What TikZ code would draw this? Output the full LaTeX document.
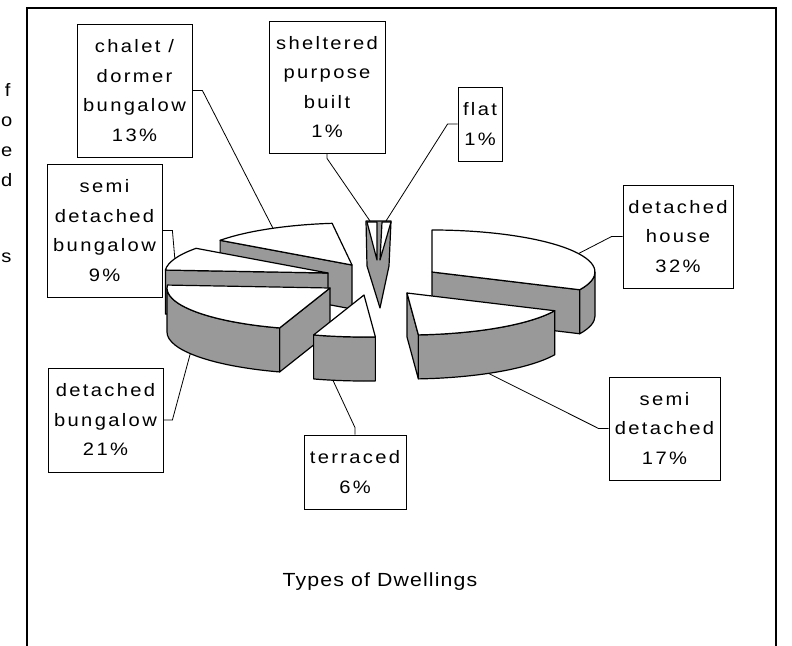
\documentclass[tikz,border=0pt]{standalone}
\usepackage{fontspec}
\usetikzlibrary{calc}
\setmainfont{Liberation Sans}
\newfontfamily\lblfont{Liberation Sans}[FakeStretch=1.12,LetterSpace=13]
\newfontfamily\ttlfont{Liberation Sans}[FakeStretch=1.12,LetterSpace=6]
\newfontfamily\edgefont{Liberation Sans}[FakeStretch=1.12]
\definecolor{pieshade}{gray}{0.6}
\tikzset{
  sideface/.style={draw,fill=pieshade,line join=round},
  topface/.style={draw,fill=white,line join=round},
  lblbox/.style={draw,fill=white,align=center,inner sep=0pt,line width=0.8bp,
    font=\lblfont\fontsize{18bp}{29.5bp}\selectfont},
  leader/.style={draw,line width=0.8bp}
}
\begin{document}
\begin{tikzpicture}[x=1bp,y=-1bp,line width=1.2bp]
    \useasboundingbox (0,0) rectangle (792,646);
    % frame
    \draw[line width=1.3bp] (27,646) -- (27,8) -- (776,8) -- (776,646);
    % text cut off at the left edge
    \begin{scope}[every node/.style={anchor=base east,inner sep=0pt,font=\edgefont\fontsize{18bp}{20bp}\selectfont}]
        \node (cut1) at (11,97) {f};
        \node (cut2) at (13,127) {o};
        \node (cut3) at (13,157) {e};
        \node (cut4) at (13,187) {d};
        \node (cut5) at (12,262) {s};
    \end{scope}
    % slices, back to front
    \begin{scope}[shift={(352,265)}]
        \draw[sideface] (0,0) -- (216:163 and 42) -- ++(0,44) -- (0,44) -- cycle;
        \draw[topface] (0,0) -- (216:163 and 42) arc[start angle=216,end angle=263,x radius=163,y radius=42] -- cycle;
        \coordinate (p-chalet) at (241:163 and 42);
    \end{scope}
    \begin{scope}[shift={(328,273)}]
        \draw[sideface] (0,0) -- (184:163 and 42) -- ++(0,44) -- (0,44) -- cycle;
        \draw[topface] (0,0) -- (184:163 and 42) arc[start angle=184,end angle=216,x radius=163,y radius=42] -- cycle;
        \coordinate (p-semibung) at (200:163 and 42);
    \end{scope}
    \begin{scope}[shift={(330,288)}]
        \draw[sideface] (0,0) -- (108:163 and 42) -- ++(0,44) -- (0,44) -- cycle;
        \draw[sideface] (108:163 and 42) arc[start angle=108,end angle=180,x radius=163,y radius=42]
            -- ++(0,44) arc[start angle=180,end angle=108,x radius=163,y radius=42] -- cycle;
        \draw[topface] (0,0) -- (108:163 and 42) arc[start angle=108,end angle=184,x radius=163,y radius=42] -- cycle;
        \coordinate (p-detbung) at ($(149:163 and 42)+(0,44)$);
    \end{scope}
    % the two thin slices
    \draw[sideface] (366,221) -- (391,221) -- (389,266) -- (380,308) -- (367,266) -- cycle;
    \draw[topface] (367,222) -- (377,222) -- (377,260) -- cycle;
    \draw[topface] (382,222) -- (391,222) -- (380,260) -- cycle;
    \coordinate (p-sheltered) at (370,221);
    \coordinate (p-flat) at (386,221);
    \begin{scope}[shift={(432,272)}]
        \draw[sideface] (0,0) -- (25:163 and 42) -- ++(0,44) -- (0,44) -- cycle;
        \draw[sideface] (0:163 and 42) arc[start angle=0,end angle=25,x radius=163,y radius=42]
            -- ++(0,44) arc[start angle=25,end angle=0,x radius=163,y radius=42] -- cycle;
        \draw[topface] (0,0) -- (-90:163 and 42) arc[start angle=-90,end angle=25,x radius=163,y radius=42] -- cycle;
        \coordinate (p-dethouse) at (-26:163 and 42);
    \end{scope}
    \begin{scope}[shift={(407,293)}]
        \draw[sideface] (0,0) -- (86:163 and 42) -- ++(0,44) -- (0,44) -- cycle;
        \draw[sideface] (25:163 and 42) arc[start angle=25,end angle=86,x radius=163,y radius=42]
            -- ++(0,44) arc[start angle=86,end angle=25,x radius=163,y radius=42] -- cycle;
        \draw[topface] (0,0) -- (25:163 and 42) arc[start angle=25,end angle=86,x radius=163,y radius=42] -- cycle;
        \coordinate (p-semidet) at ($(60:163 and 42)+(0,44)$);
    \end{scope}
    \begin{scope}[shift={(364,295)}]
        \draw[sideface] (86:163 and 42) arc[start angle=86,end angle=108,x radius=163,y radius=42]
            -- ++(0,44) arc[start angle=108,end angle=86,x radius=163,y radius=42] -- cycle;
        \draw[topface] (0,0) -- (86:163 and 42) arc[start angle=86,end angle=108,x radius=163,y radius=42] -- cycle;
        \coordinate (p-terraced) at ($(101:163 and 42)+(0,44)$);
    \end{scope}
    % labels
    \node[lblbox,minimum width=115bp,minimum height=133bp] (chalet) at (134.5,90.5) {chalet /\\dormer\\bungalow\\13\%};
    \node[lblbox,minimum width=116bp,minimum height=132bp] (sheltered) at (327,87) {sheltered\\purpose\\built\\1\%};
    \node[lblbox,minimum width=44bp,minimum height=74bp] (flat) at (480,124) {flat\\1\%};
    \node[lblbox,minimum width=110bp,minimum height=103bp] (dethouse) at (678,236.5) {detached\\house\\32\%};
    \node[lblbox,minimum width=111bp,minimum height=103bp] (semidet) at (664.5,428.5) {semi\\detached\\17\%};
    \node[lblbox,minimum width=102bp,minimum height=74bp] (terraced) at (355,472) {terraced\\6\%};
    \node[lblbox,minimum width=115bp,minimum height=104bp] (detbung) at (105.5,420) {detached\\bungalow\\21\%};
    \node[lblbox,minimum width=115bp,minimum height=133bp] (semibung) at (104.5,230.5) {semi\\detached\\bungalow\\9\%};
    % leader lines
    \draw[leader] (chalet.east) -- ++(10,0) -- (p-chalet);
    \draw[leader] (sheltered.south) -- ++(0,5) -- (p-sheltered);
    \draw[leader] (flat.west) -- ++(-10,0) -- (p-flat);
    \draw[leader] (dethouse.west) -- ++(-11,0) -- (p-dethouse);
    \draw[leader] (semidet.west) -- ++(-10,0) -- (p-semidet);
    \draw[leader] (terraced.north) -- ++(0,-7) -- (p-terraced);
    \draw[leader] (detbung.east) -- ++(9,0) -- (p-detbung);
    \draw[leader] (semibung.east) -- ++(10,0) -- (p-semibung);
    % title
    \node[font=\ttlfont\fontsize{19bp}{22bp}\selectfont] (title) at (380,582) {Types of Dwellings};
\end{tikzpicture}
\end{document}
